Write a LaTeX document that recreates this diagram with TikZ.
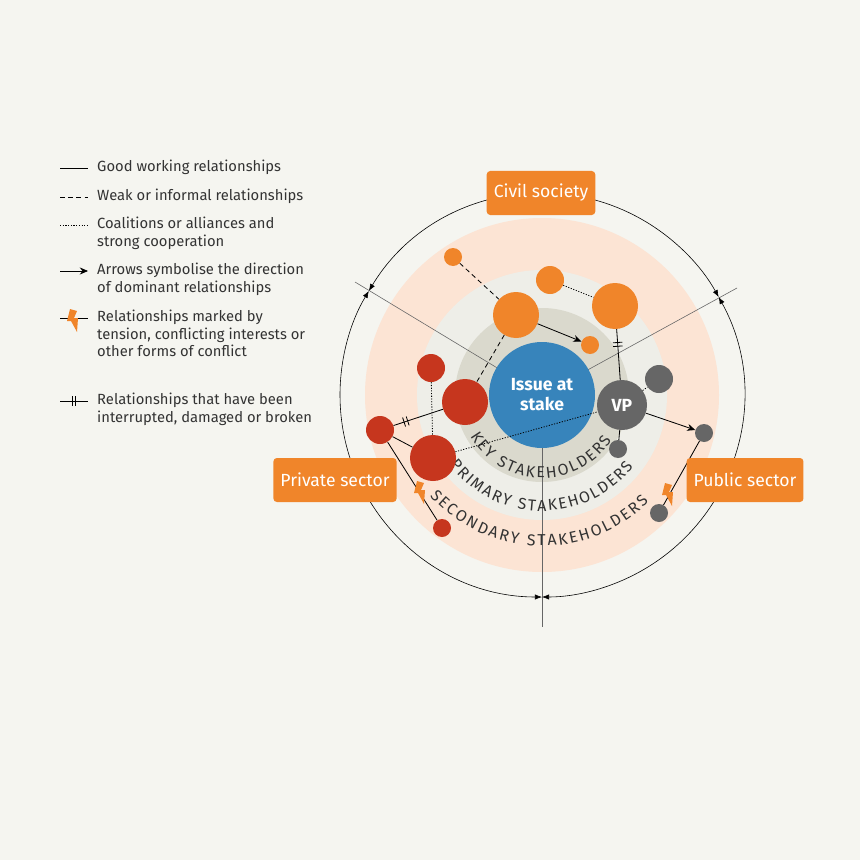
\documentclass[tikz,border=0pt]{standalone}
\usepackage{fontspec}
\setmainfont{Fira Sans}
\usetikzlibrary{arrows.meta,decorations.markings,decorations.text}
\definecolor{bgcol}{HTML}{F5F5F0}
\definecolor{peach}{HTML}{FCE4D4}
\definecolor{pale}{HTML}{EEEEE8}
\definecolor{olive}{HTML}{DAD9CD}
\definecolor{issueblue}{HTML}{3784BB}
\definecolor{orng}{HTML}{F0852A}
\definecolor{rred}{HTML}{C6361E}
\definecolor{gry}{HTML}{666666}
\definecolor{txt}{HTML}{333333}
\tikzset{
  px/.style={x=0.3mm,y=-0.3mm},
  dot/.style={circle,inner sep=0pt,minimum size=#1*0.3mm},
  onode/.style={dot=#1,fill=orng},
  rnode/.style={dot=#1,fill=rred},
  gnode/.style={dot=#1,fill=gry},
  rel/.style={draw=black,line width=0.7pt},
  weak/.style={rel,dash pattern=on 4pt off 3pt},
  ally/.style={rel,dash pattern=on 1pt off 1.3pt},
  dom/.style={rel,-{Stealth[length=7pt,width=6pt]}},
  brk/.style={postaction={decorate,decoration={markings,
      mark=at position #1 with {\draw[line width=0.7pt] (-1.6pt,-4pt)--(-1.6pt,4pt) (1.6pt,-4pt)--(1.6pt,4pt);}}}},
  sector/.style={fill=orng,rounded corners=3pt,text=white,font=\fontsize{15}{17}\selectfont,
      minimum height=13.2mm,inner xsep=6pt},
  legtext/.style={anchor=north west,align=left,text=txt,font=\fontsize{12.6}{15}\selectfont,inner sep=0pt},
  ringlabel/.style={decorate,decoration={text along path,text align={fit to path},
      text={|\fontsize{13.5}{13.5}\selectfont\color{txt}|#1}}},
  bolt/.pic={\fill[orng] (-3,-11)--(4,-9)--(1,-2)--(5,-2)--(4,12)--(-2,1)--(-6,1)--cycle;}
}
\begin{document}
\begin{tikzpicture}[px]
\fill[bgcol] (0,0) rectangle (860,860);
\useasboundingbox (0,0) rectangle (860,860);

% rings
\coordinate (c) at (542,395);
\fill[peach] (c) circle (177);
\fill[pale] (c) circle (125);
\fill[olive] (c) circle (87);

% outer circle and ticks
\draw[gry,line width=0.5pt] (c) -- ++(0,232);
\draw[gry,line width=0.5pt] (c) -- (355,282);
\draw[gry,line width=0.5pt] (c) -- (737,288);
\begin{scope}[line width=0.5pt,{Latex[length=6pt,width=4.5pt]}-{Latex[length=6pt,width=4.5pt]}]
\draw (c) ++(211:202) arc[start angle=211,end angle=331,radius=202];
\draw (c) ++(331:202) arc[start angle=331,end angle=450,radius=202];
\draw (c) ++(90:202) arc[start angle=90,end angle=211,radius=202];
\end{scope}

% ring labels
\path[ringlabel={KEY STAKEHOLDERS}] (c) ++(150:83) arc[start angle=150,end angle=33,radius=83];
\path[ringlabel={PRIMARY STAKEHOLDERS}] (c) ++(143:116) arc[start angle=143,end angle=38,radius=116];
\path[ringlabel={SECONDARY STAKEHOLDERS}] (c) ++(138:151) arc[start angle=138,end angle=45,radius=151];

% stakeholders
\node[dot=106,fill=issueblue,text=white,align=center,font=\bfseries\fontsize{15}{17}\selectfont] (issue) at (c) {Issue at\\stake};
\node[onode=18] (o1) at (453,257) {};
\node[onode=28] (o2) at (550,280) {};
\node[onode=46] (o3) at (516,315) {};
\node[onode=46] (o4) at (615,306) {};
\node[onode=18] (o5) at (590,345) {};
\node[rnode=28] (r1) at (431,368) {};
\node[rnode=46] (r2) at (465,402) {};
\node[rnode=28] (r3) at (380,430) {};
\node[rnode=46] (r4) at (433,458) {};
\node[rnode=18] (r5) at (442,528) {};
\node[gnode=50,text=white,font=\bfseries\fontsize{15}{17}\selectfont] (vp) at (622,405) {VP};
\node[gnode=28] (g1) at (659,379) {};
\node[gnode=18] (g2) at (618,449) {};
\node[gnode=18] (g3) at (704,433) {};
\node[gnode=18] (g4) at (659,513) {};

% relationships
\draw[weak] (o1) -- (o3);
\draw[weak] (o3) -- (r2);
\draw[ally] (o2) -- (o4);
\draw[dom] (o3) -- (o5);
\draw[rel,brk=0.3] (o4) -- (vp);
\draw[ally] (r1) -- (r4);
\draw[rel,brk=0.25] (r3) -- (r2);
\draw[rel] (r3) -- (r4);
\draw[rel] (r3) -- (r5);
\draw[ally] (r4) -- (vp);
\draw[ally] (vp) -- (g1);
\draw[rel] (vp) -- (g2);
\draw[dom] (vp) -- (g3);
\draw[rel] (g3) -- (g4);
\pic at (420,492) {bolt};
\pic at (668,494) {bolt};

% sectors
\node[sector] (civil) at (541,193) {Civil society};
\node[sector] (private) at (335,480) {Private sector};
\node[sector] (public) at (745,480) {Public sector};

% legend
\draw[rel] (60,168) -- (88,168);
\node[legtext] at (97,160) {Good working relationships};
\draw[weak] (60,197) -- (88,197);
\node[legtext] at (97,189) {Weak or informal relationships};
\draw[ally] (60,225) -- (88,225);
\node[legtext] at (97,217) {Coalitions or alliances and\\strong cooperation};
\draw[dom] (60,271) -- (88,271);
\node[legtext] at (97,263) {Arrows symbolise the direction\\of dominant relationships};
\draw[rel] (60,318) -- (88,318);
\pic at (73,320) {bolt};
\node[legtext] at (97,310) {Relationships marked by\\tension, conflicting interests or\\other forms of conflict};
\draw[rel,brk=0.5] (60,401) -- (88,401);
\node[legtext] at (97,393) {Relationships that have been\\interrupted, damaged or broken};
\end{tikzpicture}
\end{document}
